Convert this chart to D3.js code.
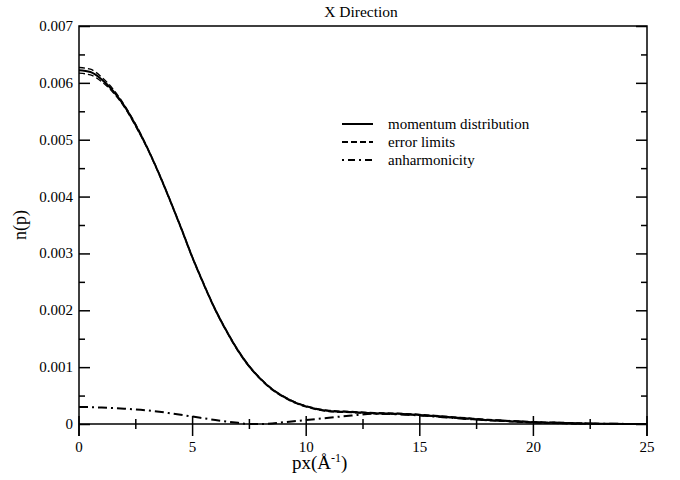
<!DOCTYPE html>
<html>
<head>
<meta charset="utf-8">
<script src="https://cdn.jsdelivr.net/npm/d3@7"></script>
<style>
  body { margin: 0; background: #fff; }
  text { font-family: "Liberation Serif", "DejaVu Serif", serif; fill: #000; }
</style>
</head>
<body>
<svg id="chart" width="680" height="480"></svg>
<script>
// momentum values
var px = [0, 0.5, 1, 1.5, 2, 2.5, 3, 3.5, 4, 4.5, 5, 5.5, 6, 6.5, 7, 7.5, 8, 8.5, 9, 9.5, 10, 10.5, 11, 12, 13, 14, 15, 16, 17, 18, 19, 20, 21, 22, 23, 24, 25];
var momentum = [0.00622, 0.00619, 0.00606, 0.00586, 0.00559, 0.00525, 0.00486, 0.00442, 0.00394, 0.00344, 0.00292, 0.00245, 0.00201, 0.00163, 0.00129, 0.00101, 0.00079, 0.00061, 0.00048, 0.00038, 0.00031, 0.00026, 0.00023, 0.00021, 0.00019, 0.00018, 0.00016, 0.00013, 0.0001, 0.00007, 0.00005, 0.00003, 0.00002, 0.00001, 0.000005, 0.000002, 0];
var errDelta = [0.00005, 0.00005, 0.00004, 0.00003, 0.00002, 0.00002, 0.00001, 0.00001, 0.00001, 0.00001, 0.00001, 0.00001, 0.00001, 0.00001, 0.00001, 0.00001, 0.00001, 0.00001, 0.00001, 0.00001, 0.00001, 0.00001, 0.00001, 0.00001, 0.00001, 0.00001, 0.00001, 0.00001, 0.00001, 0.00001, 0.00001, 0.00001, 0.00001, 0.00001, 0, 0, 0];

var anhPx = [0, 1, 2, 3, 4, 5, 6, 7, 7.5, 8, 8.5, 9, 10, 11, 12, 13, 14, 15, 16, 17, 18, 19, 20, 21, 22, 23, 24, 25];
var anharm = [0.0003, 0.00029, 0.00027, 0.00024, 0.00019, 0.00013, 0.00007, 0.00002, 0, 0, 0.00001, 0.00003, 0.00007, 0.00011, 0.00015, 0.00018, 0.00017, 0.00015, 0.00012, 0.00009, 0.00007, 0.00005, 0.00003, 0.00002, 0.00001, 0.000005, 0.000002, 0];

var xTicks = [0, 5, 10, 15, 20, 25];
var yTicks = [0, 0.001, 0.002, 0.003, 0.004, 0.005, 0.006, 0.007];
var legendNames = ["momentum distribution", "error limits", "anharmonicity"];

var svg = d3.select("#chart");
var plotL = 79, plotR = 647, plotT = 26, plotB = 424;

var x = d3.scaleLinear().domain([0, 25]).range([plotL, plotR]);
var y = d3.scaleLinear().domain([0, 0.007]).range([plotB, plotT]);

// frame: left, right, top (side lines run a bit below zero)
svg.append("path")
  .attr("d", "M" + plotL + "," + (plotB + 12) + "V" + plotT + "H" + plotR + "V" + (plotB + 12))
  .attr("fill", "none").attr("stroke", "#000").attr("stroke-width", 1.5);

// y axes, ticks inward
var yMinor = d3.range(0.0005, 0.007, 0.001);
var yl = svg.append("g").attr("transform", "translate(" + plotL + ",0)")
  .call(d3.axisRight(y).tickValues(yTicks).tickSize(11).tickFormat(""));
var ylm = svg.append("g").attr("transform", "translate(" + plotL + ",0)")
  .call(d3.axisRight(y).tickValues(yMinor).tickSize(6).tickFormat(""));
var yr = svg.append("g").attr("transform", "translate(" + plotR + ",0)")
  .call(d3.axisLeft(y).tickValues(yTicks).tickSize(11).tickFormat(""));
var yrm = svg.append("g").attr("transform", "translate(" + plotR + ",0)")
  .call(d3.axisLeft(y).tickValues(yMinor).tickSize(6).tickFormat(""));
[yl, ylm, yr, yrm].forEach(function (g) {
  g.select(".domain").remove();
  g.selectAll("line").attr("stroke-width", 1.5);
});

svg.append("g").selectAll("text").data(yTicks).join("text")
  .attr("x", 73).attr("y", function (d) { return y(d) + 5; })
  .attr("text-anchor", "end").attr("font-size", 15)
  .text(function (d) { return d === 0 ? "0" : d3.format(".3f")(d); });

// x axis along zero, ticks on both sides
svg.append("line").attr("x1", plotL).attr("x2", plotR).attr("y1", plotB).attr("y2", plotB)
  .attr("stroke", "#000").attr("stroke-width", 1.5);
var xMinor = d3.range(2.5, 25, 5);
svg.append("g").selectAll("line").data(xTicks).join("line")
  .attr("x1", x).attr("x2", x).attr("y1", plotB - 8).attr("y2", plotB + 12)
  .attr("stroke", "#000").attr("stroke-width", 1.5);
svg.append("g").selectAll("line").data(xMinor).join("line")
  .attr("x1", x).attr("x2", x).attr("y1", plotB - 5).attr("y2", plotB + 5)
  .attr("stroke", "#000").attr("stroke-width", 1.5);
svg.append("g").selectAll("text").data(xTicks).join("text")
  .attr("x", x).attr("y", 452).attr("text-anchor", "middle").attr("font-size", 15)
  .text(function (d) { return d; });

// curves
var line = d3.line().x(function (d) { return x(d[0]); }).y(function (d) { return y(d[1]); }).curve(d3.curveMonotoneX);
var upper = px.map(function (p, i) { return [p, momentum[i] + errDelta[i]]; });
var lower = px.map(function (p, i) { return [p, momentum[i] - errDelta[i]]; });

[upper, lower].forEach(function (s) {
  svg.append("path").datum(s).attr("d", line)
    .attr("fill", "none").attr("stroke", "#000").attr("stroke-width", 1.3)
    .attr("stroke-dasharray", "6,3");
});
svg.append("path").datum(px.map(function (p, i) { return [p, momentum[i]]; })).attr("d", line)
  .attr("fill", "none").attr("stroke", "#000").attr("stroke-width", 2);
svg.append("path").datum(anhPx.map(function (p, i) { return [p, anharm[i]]; })).attr("d", line)
  .attr("fill", "none").attr("stroke", "#000").attr("stroke-width", 2)
  .attr("stroke-dasharray", "9,4,2,4");

// legend
var dashes = [null, "6,3", "2,4,7,4"];
var leg = svg.append("g").selectAll("g").data(legendNames).join("g")
  .attr("transform", function (d, i) { return "translate(342," + (124 + i * 18) + ")"; });
leg.append("line").attr("x1", 0).attr("x2", 31).attr("stroke", "#000").attr("stroke-width", 2)
  .attr("stroke-dasharray", function (d, i) { return dashes[i]; });
leg.append("text").attr("x", 46).attr("y", 4.5).attr("font-size", 15).text(function (d) { return d; });

// titles
svg.append("text").attr("x", 361).attr("y", 17).attr("text-anchor", "middle").attr("font-size", 15.5).text("X Direction");
svg.append("text").attr("transform", "translate(26,225) rotate(-90)").attr("text-anchor", "middle")
  .attr("font-size", 18).text("n(p)");
var xl = svg.append("text").attr("x", 292).attr("y", 469).attr("font-size", 19);
xl.append("tspan").text("px(Å");
xl.append("tspan").attr("font-size", 12).attr("dy", -7).text("-1");
xl.append("tspan").attr("dy", 7).text(")");
</script>
</body>
</html>
